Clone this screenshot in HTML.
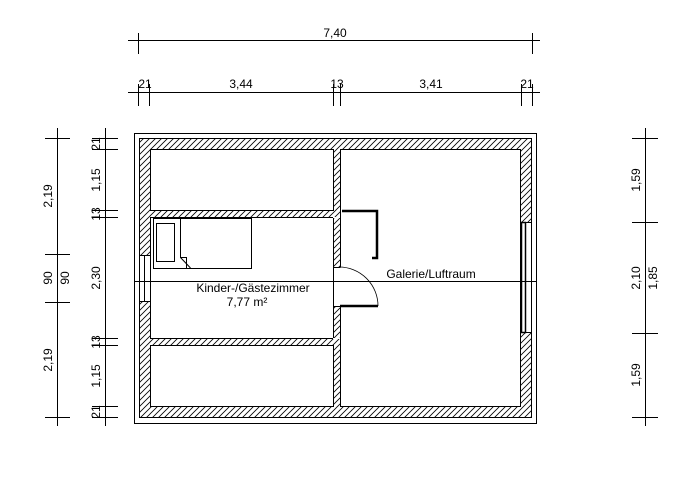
<!DOCTYPE html>
<html><head><style>html,body{margin:0;padding:0;background:#fff}svg{display:block}text{font-family:"Liberation Sans",sans-serif;font-size:12px;fill:#000}</style></head><body>
<svg width="696" height="484" viewBox="0 0 696 484" xmlns="http://www.w3.org/2000/svg">
<defs><pattern id="h" patternUnits="userSpaceOnUse" width="6" height="6"><rect width="6" height="6" fill="#fff"/><path d="M-1,7 L7,-1 M-4,4 L4,-4 M2,10 L10,2" stroke="#000" stroke-width="0.8"/></pattern></defs>
<g stroke="#000" stroke-width="1" fill="none">
<rect x="134.5" y="133.5" width="402" height="290"/>
<rect x="139.5" y="138.5" width="392" height="279" fill="url(#h)"/>
<rect x="150.5" y="149.5" width="183" height="61" fill="#fff"/>
<rect x="150.5" y="217.5" width="183" height="121" fill="#fff"/>
<rect x="150.5" y="345.5" width="183" height="61" fill="#fff"/>
<rect x="340.5" y="149.5" width="180" height="257" fill="#fff"/>
<!-- door opening -->
<rect x="333" y="267" width="8" height="40" fill="#fff" stroke="none"/>
<line x1="333.5" y1="267.5" x2="340.5" y2="267.5"/><line x1="333.5" y1="306.5" x2="340.5" y2="306.5"/>
<line x1="333.5" y1="267" x2="333.5" y2="307"/>
<line x1="333" y1="217.5" x2="340" y2="217.5" stroke="#fff"/>
<line x1="333" y1="338.5" x2="340" y2="338.5" stroke="#fff"/>
<path d="M340,306 H378" stroke-width="2.5"/>
<path d="M339,267 A39,39 0 0 1 378,306" stroke-width="0.8"/>
<path d="M342,211 H377 V258 H372" stroke-width="2.5"/>
<!-- left window -->
<rect x="140" y="255" width="10" height="47" fill="#fff" stroke="none"/>
<rect x="144.5" y="255.5" width="6" height="46"/><line x1="139.5" y1="255" x2="139.5" y2="302"/>
<line x1="140" y1="255.5" x2="150" y2="255.5"/><line x1="140" y1="301.5" x2="150" y2="301.5"/>
<!-- right window -->
<rect x="521" y="222" width="10" height="111" fill="#fff" stroke="none"/>
<rect x="521.5" y="222.5" width="4" height="110" stroke-width="1.5"/><rect x="525.5" y="222.5" width="6" height="110"/>
<!-- bed -->
<rect x="153.5" y="218.5" width="98" height="50"/>
<rect x="156.5" y="223.5" width="18" height="38"/>
<path d="M180.5,218 V257.5 L190.5,268 M180.5,257.5 H186.5 V268"/>
<!-- section line -->
<line x1="134" y1="281.5" x2="537" y2="281.5"/>
<!-- top dims -->
<line x1="128" y1="40.5" x2="540" y2="40.5"/>
<line x1="138.5" y1="33" x2="138.5" y2="54"/><line x1="532.5" y1="33" x2="532.5" y2="54"/>
<line x1="128" y1="92.5" x2="540" y2="92.5"/>
<g><line x1="138.5" y1="84" x2="138.5" y2="106"/><line x1="149.5" y1="84" x2="149.5" y2="106"/><line x1="333.5" y1="84" x2="333.5" y2="106"/><line x1="340.5" y1="84" x2="340.5" y2="106"/><line x1="521.5" y1="84" x2="521.5" y2="106"/><line x1="532.5" y1="84" x2="532.5" y2="106"/></g>
<!-- left dims -->
<line x1="57.5" y1="128" x2="57.5" y2="426"/>
<line x1="45" y1="138.5" x2="70" y2="138.5"/><line x1="45" y1="254.5" x2="70" y2="254.5"/><line x1="45" y1="302.5" x2="70" y2="302.5"/><line x1="45" y1="417.5" x2="70" y2="417.5"/>
<line x1="105.5" y1="128" x2="105.5" y2="426"/>
<g><line x1="92" y1="138.5" x2="118" y2="138.5"/><line x1="92" y1="149.5" x2="118" y2="149.5"/><line x1="92" y1="210.5" x2="118" y2="210.5"/><line x1="92" y1="217.5" x2="118" y2="217.5"/><line x1="92" y1="338.5" x2="118" y2="338.5"/><line x1="92" y1="345.5" x2="118" y2="345.5"/><line x1="92" y1="406.5" x2="118" y2="406.5"/><line x1="92" y1="417.5" x2="118" y2="417.5"/></g>
<!-- right dims -->
<line x1="645.5" y1="128" x2="645.5" y2="426"/>
<line x1="632" y1="138.5" x2="658" y2="138.5"/><line x1="632" y1="222.5" x2="658" y2="222.5"/><line x1="632" y1="333.5" x2="658" y2="333.5"/><line x1="632" y1="417.5" x2="658" y2="417.5"/>
</g>
<text x="335" y="37" text-anchor="middle">7,40</text>
<text x="145" y="88" text-anchor="middle" font-size="11">21</text>
<text x="241" y="88" text-anchor="middle">3,44</text>
<text x="337" y="88" text-anchor="middle" font-size="11">13</text>
<text x="431" y="88" text-anchor="middle">3,41</text>
<text x="527" y="88" text-anchor="middle" font-size="11">21</text>
<text x="253" y="292" text-anchor="middle">Kinder-/Gästezimmer</text>
<text x="247" y="306" text-anchor="middle">7,77 m²</text>
<text x="431" y="278" text-anchor="middle">Galerie/Luftraum</text>
<g text-anchor="middle">
<text transform="translate(52,196) rotate(-90)">2,19</text>
<text transform="translate(52,278) rotate(-90)">90</text>
<text transform="translate(69,278) rotate(-90)">90</text>
<text transform="translate(52,360) rotate(-90)">2,19</text>
<text transform="translate(100,144) rotate(-90)" font-size="11">21</text>
<text transform="translate(100,180) rotate(-90)">1,15</text>
<text transform="translate(100,214) rotate(-90)" font-size="11">13</text>
<text transform="translate(100,278) rotate(-90)">2,30</text>
<text transform="translate(100,342) rotate(-90)" font-size="11">13</text>
<text transform="translate(100,376) rotate(-90)">1,15</text>
<text transform="translate(100,412) rotate(-90)" font-size="11">21</text>
<text transform="translate(640,180) rotate(-90)">1,59</text>
<text transform="translate(640,278) rotate(-90)">2,10</text>
<text transform="translate(657,278) rotate(-90)">1,85</text>
<text transform="translate(640,375) rotate(-90)">1,59</text>
</g>
</svg>
</body></html>
